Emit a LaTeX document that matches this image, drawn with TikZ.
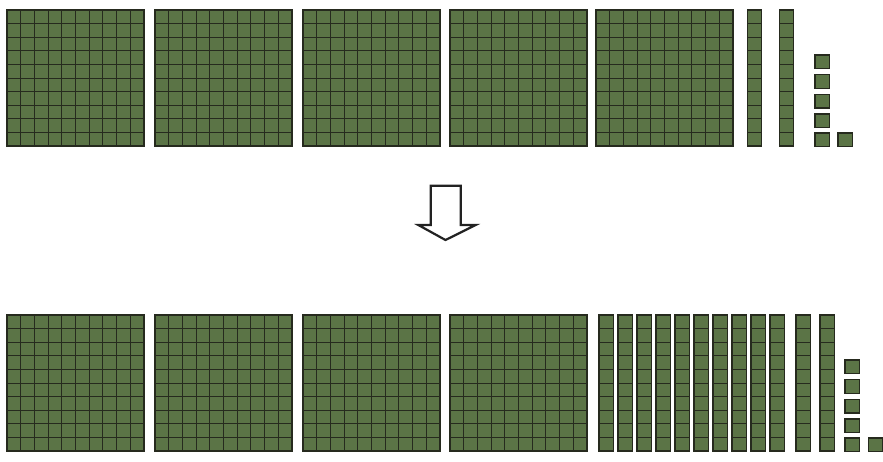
\documentclass[tikz,border=0pt]{standalone}
\usetikzlibrary{calc}
\definecolor{blockgreen}{HTML}{5B7446}
\definecolor{blockline}{HTML}{262A1E}
\definecolor{arrowgray}{HTML}{222222}
\tikzset{
  blockfill/.style={fill=blockgreen},
  gridline/.style={draw=blockline,line width=0.9pt},
  borderline/.style={draw=blockline,line width=1.3pt},
  arrowline/.style={draw=arrowgray,line width=2.2pt,line join=miter,fill=white}
}
\newcommand\hundredblock[2]{%
  \begin{scope}[shift={(#1,#2)}]
    \fill[blockfill] (0,0) rectangle (137,136);
    \foreach \i in {1,...,9}{%
      \draw[gridline] (\i*13.7,0) -- (\i*13.7,136);
      \draw[gridline] (0,\i*13.6) -- (137,\i*13.6);
    }
    \draw[borderline] (0,0) rectangle (137,136);
  \end{scope}}
\newcommand\tenrod[2]{%
  \begin{scope}[shift={(#1,#2)}]
    \fill[blockfill] (0,0) rectangle (14.5,136);
    \foreach \i in {1,...,9}{%
      \draw[gridline] (0,\i*13.6) -- (14.5,\i*13.6);
    }
    \draw[borderline] (0,0) rectangle (14.5,136);
  \end{scope}}
\newcommand\unitcube[2]{%
  \begin{scope}[shift={(#1,#2)}]
    \fill[blockfill] (0,0) rectangle (14.3,13.6);
    \draw[borderline] (0,0) rectangle (14.3,13.6);
  \end{scope}}
\begin{document}
\begin{tikzpicture}[x=1pt,y=-1pt]
  \useasboundingbox (0,0) rectangle (883,461);
  % top row
  \foreach \x in {7,155,303,450,596}{\hundredblock{\x}{10}}
  \foreach \x in {747.3,779.3}{\tenrod{\x}{10}}
  \foreach \y in {55,74.7,94.3,114,133}{\unitcube{815}{\y}}
  \unitcube{838}{133}
  % arrow
  \coordinate (atl) at (430.7,185.7);
  \coordinate (atip) at (445.5,240);
  \draw[arrowline] (atl) -- (460.7,185.7) -- (460.7,225) -- (475.7,225) -- (atip) -- (418.3,225) -- (430.7,225) -- cycle;
  % bottom row
  \foreach \x in {7,155,303,450}{\hundredblock{\x}{315}}
  \foreach \x in {599,618,637,656,675,694,713,732,751,770,796,820}{\tenrod{\x}{315}}
  \foreach \y in {360,379.7,399.3,419,438}{\unitcube{845}{\y}}
  \unitcube{868.3}{438}
\end{tikzpicture}
\end{document}
